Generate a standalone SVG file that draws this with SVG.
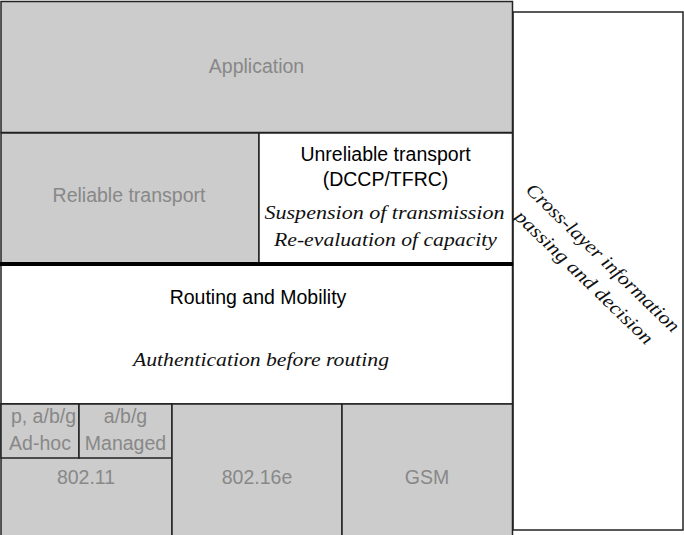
<svg xmlns="http://www.w3.org/2000/svg" width="684" height="535" viewBox="0 0 684 535">
<style>
.g{fill:#cccccc;stroke:#222;stroke-width:1.5}
.w{fill:#ffffff;stroke:#222;stroke-width:1.5}
.sg{font-family:"Liberation Sans","DejaVu Sans",sans-serif;font-size:19.5px;fill:#888;text-anchor:middle}
.sb{font-family:"Liberation Sans","DejaVu Sans",sans-serif;font-size:19.5px;fill:#000;text-anchor:middle}
.it{font-family:"Liberation Serif","DejaVu Serif",serif;font-style:italic;font-size:19px;fill:#111;text-anchor:middle}
</style>
<defs>
<clipPath id="clipAdhoc"><rect x="1" y="404" width="78" height="54"/></clipPath>
</defs>
<rect width="684" height="535" fill="#fff"/>
<g id="crosslayer">
<rect class="w" x="513" y="12" width="170" height="518"/>
<g transform="translate(593,268) rotate(44)">
<text class="it" x="0" y="-8" textLength="205" lengthAdjust="spacingAndGlyphs">Cross-layer information</text>
<text class="it" x="0" y="19" textLength="184" lengthAdjust="spacingAndGlyphs">passing and decision</text>
</g>
</g>
<g id="application">
<rect class="g" x="1" y="1.5" width="511.5" height="131"/>
<text class="sg" x="256.5" y="73">Application</text>
</g>
<g id="reliable">
<rect class="g" x="1" y="133" width="258" height="131"/>
<text class="sg" x="129" y="202">Reliable transport</text>
</g>
<g id="unreliable">
<rect class="w" x="259" y="133" width="253.5" height="131"/>
<text class="sb" x="385.5" y="161">Unreliable transport</text>
<text class="sb" x="385.5" y="186">(DCCP/TFRC)</text>
<text class="it" x="384.5" y="219" textLength="240" lengthAdjust="spacingAndGlyphs">Suspension of transmission</text>
<text class="it" x="385.5" y="246" textLength="223" lengthAdjust="spacingAndGlyphs">Re-evaluation of capacity</text>
</g>
<g id="routing">
<rect class="w" x="1" y="264" width="511.5" height="140"/>
<line x1="0" y1="264" x2="513" y2="264" stroke="#000" stroke-width="4"/>
<text class="sb" x="258" y="304">Routing and Mobility</text>
<text class="it" x="261" y="366" textLength="256" lengthAdjust="spacingAndGlyphs">Authentication before routing</text>
</g>
<g id="wifi">
<rect class="g" x="1" y="404" width="171" height="135"/>
<text class="sg" x="86" y="484">802.11</text>
</g>
<g id="adhoc">
<rect class="g" x="1" y="404" width="78" height="54"/>
<g clip-path="url(#clipAdhoc)">
<text class="sg" x="76" y="423" style="text-anchor:end">p, a/b/g</text>
</g>
<text class="sg" x="40" y="450">Ad-hoc</text>
</g>
<g id="managed">
<rect class="g" x="79" y="404" width="93" height="54"/>
<text class="sg" x="125.5" y="423">a/b/g</text>
<text class="sg" x="125.5" y="450">Managed</text>
</g>
<g id="wimax">
<rect class="g" x="172" y="404" width="170" height="135"/>
<text class="sg" x="257" y="484">802.16e</text>
</g>
<g id="gsm">
<rect class="g" x="342" y="404" width="170.5" height="135"/>
<text class="sg" x="427" y="484">GSM</text>
</g>
<g id="connectors"></g>
</svg>
